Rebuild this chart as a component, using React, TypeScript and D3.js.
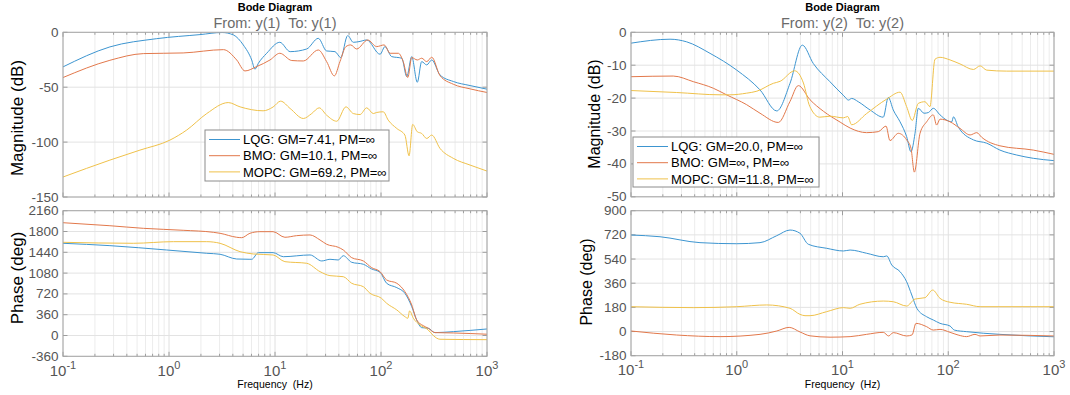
import React from 'react';
import * as d3 from 'd3';

type Pt = [number, number];

// Frequency response samples: [frequency in Hz, value]
const lqgMag1: Pt[] = [[0.1,-31.5],[0.277,-13.3],[0.766,-5.8],[1.96,-2.1],[3.17,-0.2],[4.05,-2.4],[5.02,-11.5],[6.03,-25.2],[6.47,-33.6],[6.97,-28.2],[8.35,-19.1],[11.1,-9.1],[13.9,-17.6],[19.9,-15.2],[25.6,-5.5],[30.7,-17],[36.8,-17.6],[41.7,-23],[48.5,-3],[54.8,-9.1],[62,-8.5],[73.3,-7],[98,-20],[109,-13],[126,-22.1],[157,-23.6],[175,-40.3],[195,-22.1],[220,-45.5],[242,-26.7],[270,-29.7],[301,-25.2],[360,-38.8],[481,-44.8],[692,-48.5],[1000,-51.8]];
const bmoMag1: Pt[] = [[0.1,-41.2],[0.277,-25.5],[0.573,-19.4],[1.36,-18.8],[3.26,-15.8],[4.35,-25.2],[5.21,-35.2],[6.72,-31.2],[8.97,-25.2],[11.1,-19.1],[14.4,-25.7],[18.5,-26.1],[25.6,-16.1],[30.7,-26.7],[36.3,-39.7],[41,-26.7],[46.7,-13],[51.8,-11.5],[58.9,-15.2],[74.9,-7],[91,-13],[107,-11.5],[122,-19.1],[146,-19.1],[162,-26.7],[179,-41.2],[195,-23],[220,-25.2],[242,-23.6],[270,-26.7],[301,-22.7],[360,-39.4],[481,-47.3],[692,-51.5],[1000,-54.8]];
const mopcMag1: Pt[] = [[0.1,-131.8],[0.277,-116.4],[0.532,-107.3],[1.02,-98.2],[1.47,-89],[2.27,-74],[3.62,-64],[4.68,-67.9],[7.72,-71.5],[9.6,-68],[11.3,-62.7],[13.9,-69.4],[18.5,-78.5],[22.2,-74],[26.1,-68.8],[30.7,-75.5],[38.2,-81],[46.7,-67.9],[54.8,-74],[63.4,-74.9],[73.3,-68.8],[84.6,-74],[91,-73],[105,-72.4],[117,-80],[141,-87.6],[168,-93.6],[184,-112.5],[199,-83.9],[220,-90.6],[242,-92.1],[270,-96.7],[301,-93.6],[360,-105.7],[481,-114.8],[692,-120.9],[1000,-126.4]];

const lqgPhase1: Pt[] = [[0.1,1596],[0.277,1555],[0.95,1480],[2.27,1423],[3.03,1406],[4.35,1324],[5.8,1319],[6.03,1319],[6.97,1434],[9.6,1434],[12,1364],[21.4,1394],[27.6,1290],[33,1319],[39.5,1307],[44.1,1381],[52.9,1267],[68.1,1233],[81.6,1151],[98,1094],[113,904],[141,828],[168,731],[195,499],[217,269],[242,136],[279,126],[323,50],[481,67],[1000,113]];
const bmoPhase1: Pt[] = [[0.1,1952],[0.277,1900],[0.573,1855],[1.36,1821],[2.62,1786],[3.03,1769],[4.35,1700],[4.85,1693],[5.8,1769],[7.2,1797],[9.6,1797],[12.4,1700],[16,1728],[21.4,1740],[26.6,1653],[30.7,1579],[39.5,1527],[44.1,1480],[52.9,1347],[68.1,1290],[81.6,1174],[98,1105],[113,961],[141,904],[168,759],[195,529],[217,269],[250,171],[279,126],[323,50],[481,44],[1000,22]];
const mopcPhase1: Pt[] = [[0.1,1613],[0.46,1596],[1.1,1624],[2.27,1624],[3.03,1596],[4.68,1451],[6.25,1411],[9.6,1394],[12.4,1278],[19.9,1250],[26.6,1105],[33,1036],[44.1,1018],[52.9,904],[68.1,845],[78.7,731],[101,644],[113,558],[141,442],[168,326],[179,298],[186,425],[202,298],[233,183],[279,96],[312,-2],[360,-65],[1000,-72]];

const lqgMag2: Pt[] = [[0.1,-3.3],[0.234,-2.1],[0.336,-2.9],[0.559,-6.4],[1.0,-11.5],[1.66,-17.5],[2.39,-23.9],[3.19,-15.5],[4.17,-3.9],[5.3,-9.5],[7.6,-15],[10.3,-19.3],[11.4,-20.6],[12.2,-20.1],[14.1,-21.1],[18.2,-23.6],[24.3,-25.8],[27.1,-19.8],[30.2,-23.6],[35,-27.2],[40.4,-31.7],[44.4,-36.3],[48.5,-30.7],[52.1,-23.1],[59,-24.6],[64.8,-24.4],[72.2,-23.1],[83.6,-25.1],[96.6,-26.7],[108,-27.2],[112,-25.7],[124,-28.7],[173,-32.7],[231,-33.7],[308,-35.8],[444,-37.3],[637,-38.3],[1000,-39]];
const bmoMag2: Pt[] = [[0.1,-13.5],[0.251,-13.3],[0.388,-15],[0.6,-17],[0.8,-19],[1.24,-22],[1.66,-24.6],[2.47,-27.4],[3.19,-21],[3.82,-16.2],[4.93,-20.5],[6.6,-24],[9.5,-27.3],[11.8,-29.1],[16.9,-30.5],[21.8,-30.2],[25.8,-28.5],[28.1,-32.9],[33.7,-30.7],[40.4,-32.7],[44.4,-35.2],[47.8,-42.5],[54.1,-30.7],[62.5,-27.2],[72.2,-25.1],[77.6,-28.2],[83.6,-26.4],[104,-27.2],[129,-29.2],[161,-31.2],[186,-30.5],[207,-31.9],[308,-34.5],[637,-35.8],[1000,-37.1]];
const mopcMag2: Pt[] = [[0.1,-17.7],[0.27,-18.3],[0.695,-19],[0.86,-19],[1.24,-18.5],[1.55,-17.9],[2.22,-15.5],[2.57,-14.9],[3.53,-11.7],[4.27,-15.4],[4.9,-22.5],[6.1,-25.8],[7.6,-25.5],[10.2,-26],[11.2,-25.6],[12.2,-28.1],[16.9,-24.7],[26.2,-20.3],[35,-18.2],[40.4,-22.6],[45.7,-26.8],[52.1,-21.6],[60.2,-21.1],[67.1,-22.6],[74.9,-8.2],[83.6,-7.6],[104,-8.4],[129,-9.6],[173,-11.3],[200,-10.2],[231,-11.5],[357,-11.8],[1000,-11.8]];

const lqgPhase2: Pt[] = [[0.1,719],[0.188,706],[0.449,662],[1,654],[1.66,662],[2.39,714],[3.19,756],[3.96,732],[4.75,650],[7.08,620],[10.2,600],[11.8,607],[16.9,583],[24.3,557],[26.2,563],[29.2,496],[35,446],[40.4,371],[45.2,272],[50.5,173],[62.5,110],[72.2,86],[83.6,61],[104,41],[114,11],[149,-1],[308,-21],[1000,-39]];
const bmoPhase2: Pt[] = [[0.1,4],[0.27,-26],[0.695,-38],[1.66,-21],[2.39,4],[3.13,31],[3.96,-3],[4.93,-32],[7.62,-42],[11.8,-38],[16.9,-21],[24.3,-6],[27.3,-33],[30.2,-8],[40.4,-33],[45.5,-25],[49.5,61],[62.5,36],[72.2,11],[83.6,16],[104,-6],[124,-26],[149,-38],[179,-21],[200,-33],[308,-26],[1000,-33]];
const mopcPhase2: Pt[] = [[0.1,185],[0.388,178],[1,185],[1.92,198],[3.19,173],[3.96,128],[4.42,118],[4.93,118],[7.08,148],[10.2,178],[11.8,173],[14.6,203],[24.3,227],[30.2,222],[40.4,190],[48.5,242],[60.2,252],[71.3,309],[83.6,247],[104,218],[149,203],[200,185],[1000,185]];

const seriesColors = ['#3d95d0', '#e2784b', '#efc14a'];
const legend1 = ['LQG: GM=7.41, PM=\u221E', 'BMO: GM=10.1, PM=\u221E', 'MOPC: GM=69.2, PM=\u221E'];
const legend2 = ['LQG: GM=20.0, PM=\u221E', 'BMO: GM=\u221E, PM=\u221E', 'MOPC: GM=11.8, PM=\u221E'];
const decades = [-1, 0, 1, 2, 3];
const magTicks1 = [0, -50, -100, -150];
const phaseTicks1 = [2160, 1800, 1440, 1080, 720, 360, 0, -360];
const magTicks2 = [0, -10, -20, -30, -40, -50];
const phaseTicks2 = [900, 720, 540, 360, 180, 0, -180];

const FONT = '"Liberation Sans", Arial, Helvetica, sans-serif';
const GRAY_TXT = '#555555';

type Box = { top: number; bottom: number };

interface PanelProps {
  x0: number; x1: number;
  mag: Box; phase: Box;
  magTicks: number[]; phaseTicks: number[];
  mags: Pt[][]; phases: Pt[][];
  legend: string[]; legendBox: { x: number; y: number; w: number; h: number };
  io: string;
  magLabelX: number; phaseLabelX: number; magLabelY: number; phaseLabelY: number;
  labelSize: number;
}

function Axes({ x, y, ticks, data, xTickLabels }: {
  x: d3.ScaleLogarithmic<number, number>; y: d3.ScaleLinear<number, number>;
  ticks: number[]; data: Pt[][]; xTickLabels: boolean;
}) {
  const [xa, xb] = x.range();
  const [yb, ya] = y.range();
  const minors: number[] = [];
  decades.slice(0, -1).forEach((d) => {
    for (let k = 2; k <= 9; k++) minors.push(k * Math.pow(10, d));
  });
  const line = d3.line<Pt>().x((p) => x(p[0])).y((p) => y(p[1])).curve(d3.curveMonotoneX);
  const clipId = `clip-${Math.round(xa)}-${Math.round(ya)}`;
  return (
    <g>
      <defs>
        <clipPath id={clipId}><rect x={xa} y={ya} width={xb - xa} height={yb - ya} /></clipPath>
      </defs>
      <rect x={xa} y={ya} width={xb - xa} height={yb - ya} fill="#fff" />
      {minors.map((m) => (
        <line key={'mg' + m} x1={x(m)} x2={x(m)} y1={ya} y2={yb} stroke="#ececec" strokeWidth={1} />
      ))}
      {decades.map((d) => (
        <line key={'Mg' + d} x1={x(Math.pow(10, d))} x2={x(Math.pow(10, d))} y1={ya} y2={yb} stroke="#e0e0e0" strokeWidth={1} />
      ))}
      {ticks.map((t) => (
        <line key={'hg' + t} x1={xa} x2={xb} y1={y(t)} y2={y(t)} stroke="#e3e3e3" strokeWidth={1} />
      ))}
      {/* inner tick marks */}
      {minors.map((m) => (
        <g key={'mt' + m}>
          <line x1={x(m)} x2={x(m)} y1={ya} y2={ya + 2.5} stroke="#8a8a8a" strokeWidth={0.8} />
          <line x1={x(m)} x2={x(m)} y1={yb} y2={yb - 2.5} stroke="#8a8a8a" strokeWidth={0.8} />
        </g>
      ))}
      {decades.map((d) => (
        <g key={'Mt' + d}>
          <line x1={x(Math.pow(10, d))} x2={x(Math.pow(10, d))} y1={ya} y2={ya + 4.5} stroke="#8a8a8a" strokeWidth={0.8} />
          <line x1={x(Math.pow(10, d))} x2={x(Math.pow(10, d))} y1={yb} y2={yb - 4.5} stroke="#8a8a8a" strokeWidth={0.8} />
        </g>
      ))}
      {ticks.map((t) => (
        <g key={'yt' + t}>
          <line x1={xa} x2={xa + 4.5} y1={y(t)} y2={y(t)} stroke="#8a8a8a" strokeWidth={0.8} />
          <line x1={xb} x2={xb - 4.5} y1={y(t)} y2={y(t)} stroke="#8a8a8a" strokeWidth={0.8} />
          <text x={xa - 4.5} y={y(t)} dy="0.34em" textAnchor="end" fontSize={13.5} fill={GRAY_TXT} fontFamily={FONT}>{t}</text>
        </g>
      ))}
      <g clipPath={`url(#${clipId})`}>
        {data.map((s, i) => (
          <path key={i} d={line(s) || ''} fill="none" stroke={seriesColors[i]} strokeWidth={1} />
        ))}
      </g>
      <rect x={xa} y={ya} width={xb - xa} height={yb - ya} fill="none" stroke="#a6a6a6" strokeWidth={1} />
      {xTickLabels && decades.map((d) => (
        <text key={'xl' + d} x={x(Math.pow(10, d))} y={yb + 19.5} textAnchor="middle" fontSize={15} fill={GRAY_TXT} fontFamily={FONT}>
          10<tspan fontSize={11} dy={-7}>{d}</tspan>
        </text>
      ))}
    </g>
  );
}

function Panel(p: PanelProps) {
  const x = d3.scaleLog().domain([0.1, 1000]).range([p.x0, p.x1]);
  const yMag = d3.scaleLinear()
    .domain([p.magTicks[p.magTicks.length - 1], p.magTicks[0]])
    .range([p.mag.bottom, p.mag.top]);
  const yPh = d3.scaleLinear()
    .domain([p.phaseTicks[p.phaseTicks.length - 1], p.phaseTicks[0]])
    .range([p.phase.bottom, p.phase.top]);
  const cx = (p.x0 + p.x1) / 2;
  const lb = p.legendBox;
  return (
    <g>
      <text x={cx} y={10.5} textAnchor="middle" fontSize={11} fontWeight="bold" fill="#000" fontFamily={FONT}>Bode Diagram</text>
      <text x={cx} y={27.5} textAnchor="middle" fontSize={14.5} fill="#6b6b6b" fontFamily={FONT} style={{ whiteSpace: 'pre' }}>{p.io}</text>
      <Axes x={x} y={yMag} ticks={p.magTicks} data={p.mags} xTickLabels={false} />
      <Axes x={x} y={yPh} ticks={p.phaseTicks} data={p.phases} xTickLabels={true} />
      <text transform={`translate(${p.magLabelX},${p.magLabelY}) rotate(-90)`} textAnchor="middle" fontSize={p.labelSize} fill="#000" fontFamily={FONT}>Magnitude (dB)</text>
      <text transform={`translate(${p.phaseLabelX},${p.phaseLabelY}) rotate(-90)`} textAnchor="middle" fontSize={p.labelSize} fill="#000" fontFamily={FONT}>Phase (deg)</text>
      <text x={cx} y={388} textAnchor="middle" fontSize={10.5} fill="#000" fontFamily={FONT} style={{ whiteSpace: 'pre' }}>{'Frequency  (Hz)'}</text>
      <g>
        <rect x={lb.x} y={lb.y} width={lb.w} height={lb.h} fill="#fff" stroke="#8c8c8c" strokeWidth={1} />
        {p.legend.map((t, i) => {
          const ly = lb.y + 9.5 + i * 16.2;
          return (
            <g key={t}>
              <line x1={lb.x + 4} x2={lb.x + 35} y1={ly} y2={ly} stroke={seriesColors[i]} strokeWidth={1} />
              <text x={lb.x + 38} y={ly} dy="0.36em" fontSize={13} fill="#000" fontFamily={FONT}>{t}</text>
            </g>
          );
        })}
      </g>
    </g>
  );
}

export default function App() {
  return (
    <svg width={1070} height={395} viewBox="0 0 1070 395" style={{ position: 'absolute', left: 0, top: 0, background: '#fff' }}>
      <rect x={0} y={0} width={1070} height={395} fill="#fff" />
      <Panel
        x0={63} x1={487}
        mag={{ top: 32.3, bottom: 197 }} phase={{ top: 210.7, bottom: 356.3 }}
        magTicks={magTicks1} phaseTicks={phaseTicks1}
        mags={[lqgMag1, bmoMag1, mopcMag1]} phases={[lqgPhase1, bmoPhase1, mopcPhase1]}
        legend={legend1} legendBox={{ x: 205, y: 130, w: 184, h: 51 }}
        io={'From: y(1)  To: y(1)'}
        magLabelX={23} magLabelY={118} phaseLabelX={23} phaseLabelY={278} labelSize={17}
      />
      <Panel
        x0={631} x1={1054}
        mag={{ top: 32.3, bottom: 196.8 }} phase={{ top: 210.7, bottom: 355.7 }}
        magTicks={magTicks2} phaseTicks={phaseTicks2}
        mags={[lqgMag2, bmoMag2, mopcMag2]} phases={[lqgPhase2, bmoPhase2, mopcPhase2]}
        legend={legend2} legendBox={{ x: 633, y: 137, w: 186, h: 50 }}
        io={'From: y(2)  To: y(2)'}
        magLabelX={600} magLabelY={114} phaseLabelX={592} phaseLabelY={282} labelSize={16}
      />
    </svg>
  );
}
